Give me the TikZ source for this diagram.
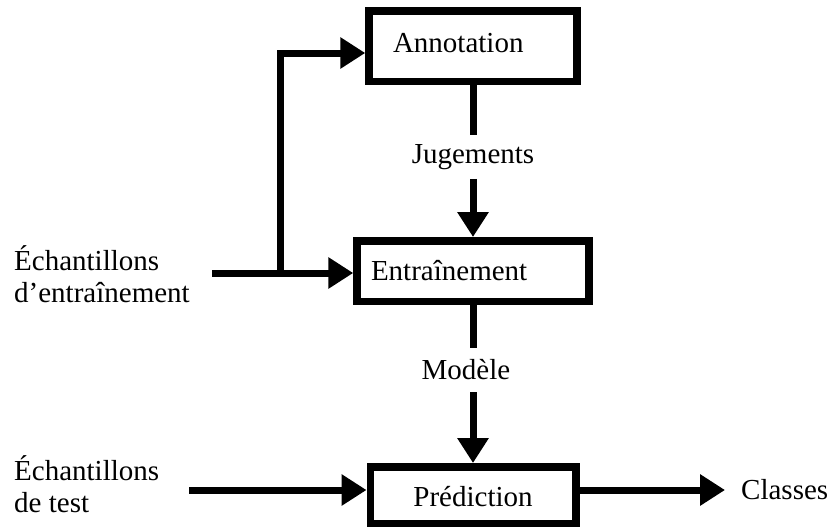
\documentclass[tikz,border=0pt]{standalone}
\usepackage{fontspec}
\setmainfont{Liberation Serif}
\usetikzlibrary{arrows.meta,calc}
\begin{document}
\begin{tikzpicture}[x=1pt,y=-1pt,
  txt/.style={font=\fontsize{29}{32}\selectfont},
  box/.style={txt, draw, line width=7.5pt, inner ysep=0pt},
  lbl/.style={txt},
  wire/.style={line width=7pt},
  arr/.style={wire, -{Triangle[length=25pt,width=30pt]}}]
\useasboundingbox (0,0) rectangle (834,528);

\node[box, text width=160pt, inner xsep=24pt, align=left, minimum height=70.5pt,
      text height=18pt, text depth=6pt] (annot) at (473,46) {Annotation};
\node[box, text width=204pt, inner xsep=14pt, align=left, minimum height=60.5pt] (entr) at (473,271) {Entraînement};
\node[box, minimum width=205.5pt, minimum height=56.5pt,
      text height=22pt, text depth=0pt] (pred) at (473,495) {Prédiction};

\node[lbl, inner ysep=9pt] (jug) at (473,157) {Jugements};
\node[lbl, inner ysep=12pt] (mod) at (466,370) {Modèle};

\draw[wire] (annot.south) -- (annot.south |- jug.north);
\draw[arr] (annot.south |- jug.south) -- (entr.north);
\draw[wire] (entr.south) -- (entr.south |- mod.north);
\draw[arr] (entr.south |- mod.south) -- (pred.north);

\coordinate (tr) at (212,273);
\coordinate (fork) at (280,273);
\coordinate (bend) at (280,53);
\draw[arr] (tr) -- (tr -| entr.west);
\draw[arr] (fork) -- (bend) -- (bend -| annot.west);

\coordinate (te) at (189,490);
\draw[arr] (te) -- (te -| pred.west);
\node[lbl, anchor=west, inner xsep=16pt] (cls) at (725,490) {Classes};
\draw[arr] (pred.east |- cls) -- (cls.west);

\node[lbl, align=left, anchor=base west, inner sep=0pt] (s1) at (14,302) {Échantillons\\d’entraînement};
\node[lbl, align=left, anchor=base west, inner sep=0pt] (s2) at (14,512) {Échantillons\\de test};
\end{tikzpicture}
\end{document}
